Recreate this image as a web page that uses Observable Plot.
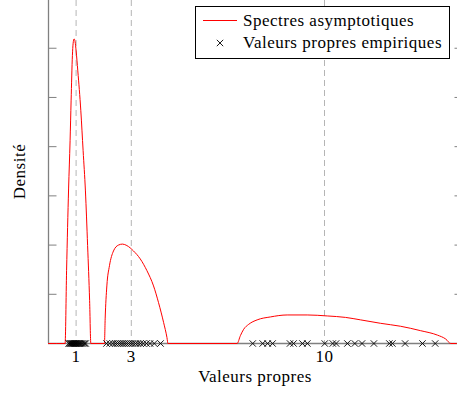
<!DOCTYPE html>
<html><head><meta charset="utf-8">
<script src="https://cdn.jsdelivr.net/npm/d3@7"></script>
<script src="https://cdn.jsdelivr.net/npm/@observablehq/plot@0.6"></script>
<style>
html,body{margin:0;padding:0;overflow:hidden;background:#fff;}
#chart{position:relative;width:457px;height:394px;overflow:hidden;}
#chart svg{max-width:none !important;}
</style></head><body><div id="chart"></div>
<script>
// Asymptotic spectral density
const densityX = [0, 0.601, 0.655, 0.728, 0.782, 0.819, 0.866, 0.891, 0.927, 0.964, 1.000, 1.062, 1.171, 1.254, 1.338, 1.417, 1.490, 1.534,
  2.027, 2.053, 2.114, 2.209, 2.354, 2.535, 2.681, 2.840, 3.080, 3.323, 3.566, 3.806, 3.987, 4.169, 4.292, 4.328,
  6.833, 6.953, 7.073, 7.254, 7.559, 8.042, 8.648, 9.374, 10.100, 10.764, 11.309, 12.035, 12.760, 13.486, 14.093, 14.394, 14.575, 15];
const densityY = [0, 0, 0.148, 0.314, 0.412, 0.493, 0.585, 0.609, 0.619, 0.613, 0.595, 0.554, 0.473, 0.392, 0.310, 0.199, 0.087, 0,
  0, 0.050, 0.117, 0.158, 0.188, 0.200, 0.202, 0.199, 0.188, 0.172, 0.148, 0.117, 0.083, 0.043, 0.012, 0,
  0, 0.016, 0.029, 0.039, 0.048, 0.054, 0.058, 0.058, 0.056, 0.053, 0.048, 0.041, 0.035, 0.026, 0.017, 0.009, 0, 0];
// Empirical eigenvalues
const eigenvalues = [
  0.73, 0.77, 0.80, 0.83, 0.86, 0.88, 0.91, 0.93, 0.96, 0.98, 1.01, 1.04, 1.07, 1.10, 1.13, 1.17, 1.21, 1.25, 1.30, 1.35,
  2.10, 2.22, 2.33, 2.42, 2.50, 2.58, 2.66, 2.74, 2.82, 2.90, 2.98, 3.06, 3.15, 3.24, 3.33, 3.43, 3.55, 3.68, 3.83, 4.06,
  7.40, 7.76, 7.94, 8.12, 8.75, 8.88, 9.20, 9.38, 10.01, 10.30, 10.42, 10.83, 11.10, 11.36, 11.79, 12.35, 12.46, 12.92, 13.55, 14.01];
const referenceLines = [1, 3, 10];
const xTicks = [1, 3, 10];
const yTicks = [0.1, 0.2, 0.3, 0.4, 0.5, 0.6];
const seriesLabels = ["Spectres asymptotiques", "Valeurs propres empiriques"];
const xLabel = "Valeurs propres";
const yLabel = "Densité";

const font = "'Liberation Serif', 'Times New Roman', serif";
const curve = densityX.map((x, i) => ({x, y: densityY[i]}));
const points = eigenvalues.map(v => ({x: v, y: 0}));
const axisColor = "#808080";

const plot = Plot.plot({
  width: 466, height: 394,
  marginLeft: 48, marginRight: 4, marginTop: 0, marginBottom: 51,
  x: {domain: [0, 15]},
  y: {domain: [0, 0.697]},
  style: `font-family: ${font}; font-size: 17px; letter-spacing: 0.5px; background: white; color: black; overflow: visible; max-width: none;`,
  marks: [
    Plot.ruleX(referenceLines, {stroke: "#b5b5b5", strokeDasharray: "6,4", strokeWidth: 1}),
    Plot.ruleX([0], {stroke: axisColor, strokeWidth: 1.3}),
    Plot.ruleX([15], {stroke: axisColor, strokeWidth: 1.3}),
    Plot.ruleY([0], {stroke: axisColor, strokeWidth: 1.3}),
    Plot.axisY({ticks: yTicks, tickSize: -8.5, tickFormat: () => "", stroke: axisColor, label: null}),
    Plot.axisY({anchor: "right", ticks: yTicks, tickSize: -8.5, tickFormat: () => "", stroke: axisColor, label: null}),
    Plot.axisX({ticks: xTicks, tickSize: 0, tickPadding: 6, label: null, fontSize: 17}),
    Plot.line(curve, {x: "x", y: "y", stroke: "#ff0000", strokeWidth: 1, curve: "monotone-x"}),
    Plot.dot(points, {x: "x", y: "y", symbol: "times", r: 3, stroke: "black", strokeWidth: 0.9})
  ]
});
plot.style.maxWidth = "none";
plot.style.width = "466px";
plot.style.height = "394px";

const svg = d3.select(plot);
svg.append("text").attr("x", 255).attr("y", 382).attr("text-anchor", "middle")
  .attr("fill", "black").attr("font-size", 17).text(xLabel);
svg.append("text").attr("transform", "translate(25,171.5) rotate(-90)").attr("text-anchor", "middle")
  .attr("fill", "black").attr("font-size", 17).text(yLabel);

const lg = svg.append("g").attr("text-anchor", "start");
lg.append("rect").attr("x", 195.5).attr("y", 6.5).attr("width", 254).attr("height", 52)
  .attr("fill", "white").attr("stroke", "black").attr("stroke-width", 1);
lg.append("line").attr("x1", 203).attr("x2", 237).attr("y1", 20.5).attr("y2", 20.5)
  .attr("stroke", "#ff0000").attr("stroke-width", 1);
lg.append("path").attr("transform", "translate(220,43)")
  .attr("d", d3.symbol(d3.symbolTimes, Math.PI * 9)())
  .attr("fill", "none").attr("stroke", "black").attr("stroke-width", 0.9);
lg.append("text").attr("x", 243).attr("y", 26).attr("text-anchor", "start").attr("fill", "black").attr("font-size", 17).text(seriesLabels[0]);
lg.append("text").attr("x", 243).attr("y", 47.5).attr("text-anchor", "start").attr("fill", "black").attr("font-size", 17).text(seriesLabels[1]);

document.getElementById("chart").appendChild(plot);
</script>
</body></html>
